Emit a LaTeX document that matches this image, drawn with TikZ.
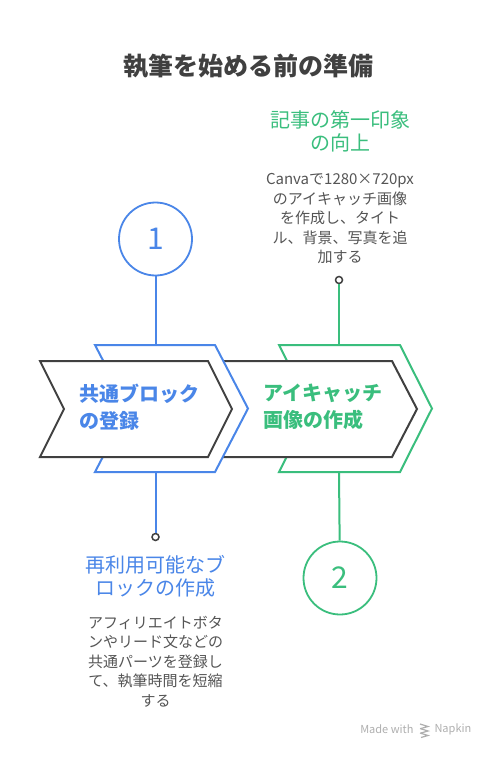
\documentclass[tikz,border=0pt]{standalone}
\usepackage{fontspec}
\setmainfont{Noto Sans CJK JP}
\definecolor{stepblue}{RGB}{74,134,232}
\definecolor{stepgreen}{RGB}{58,190,125}
\definecolor{edgegray}{RGB}{64,64,64}
\definecolor{textgray}{RGB}{85,85,85}
\definecolor{markgray}{RGB}{175,175,175}

\begin{document}
\begin{tikzpicture}[x=1pt, y=-1pt, line join=miter, chev/.style={fill=white, line width=2pt}, link/.style={line width=2pt}, numcircle/.style={circle, draw, fill=white, line width=1.8pt, minimum size=73pt, inner sep=0pt, font=\fontsize{30}{30}\selectfont}, dot/.style={circle, draw=edgegray, fill=white, line width=1.5pt, minimum size=7pt, inner sep=0pt}, head/.style={align=center, font=\fontsize{20}{23}\selectfont}, body/.style={align=center, text=textgray, font=\fontsize{15}{19.5}\selectfont}, steptext/.style={align=left, anchor=west, font=\bfseries\fontsize{20}{27}\selectfont}]
\useasboundingbox[fill=white] (0,0) rectangle (495,757);
\node[font=\bfseries\fontsize{25}{25}\selectfont, text=edgegray] (title) at (248,66) {執筆を始める前の準備};
% connectors, drawn below the arrows
\node[numcircle, draw=stepblue, text=stepblue] (c1) at (155.5,239) {1};
\node[numcircle, draw=stepgreen, text=stepgreen] (c2) at (340,578) {2};
\node[dot] (d1) at (155.5,537) {};
\node[dot] (d2) at (339,280) {};
\coordinate (b1top) at (155.5,345); \coordinate (b1bot) at (155.5,472);
\coordinate (g2top) at (339,345); \coordinate (g2bot) at (339,472);
\draw[link, stepblue] (c1) -- (b1top);\draw[link, stepblue] (b1bot) -- (d1);
\draw[link, stepgreen] (d2) -- (g2top);\draw[link, stepgreen] (g2bot) -- (c2);
% arrows, back to front
\draw[chev, draw=stepgreen] (279,345) -- (400,345) -- (432,408.5) -- (400,472) -- (279,472) -- (311,408.5) -- cycle;
\draw[chev, draw=edgegray] (216,361) -- (392,361) -- (417,409) -- (392,457) -- (216,457) -- (240,409) -- cycle;
\draw[chev, draw=stepblue] (95,345) -- (215,345) -- (248,408.5) -- (215,472) -- (95,472) -- (128,408.5) -- cycle;
\draw[chev, draw=edgegray] (40,361) -- (208,361) -- (232,409) -- (208,457) -- (40,457) -- (64,409) -- cycle;
\node[steptext, text=stepblue] (s1) at (76,407) {共通ブロック\\の登録};
\node[steptext, text=stepgreen] (s2) at (260,407) {アイキャッチ\\画像の作成};
% texts
\node[head, text=stepgreen] (h2) at (340,131.5) {記事の第一印象\\の向上};
\node[body] (t2) at (340,219) {Canvaで1280×720px\\のアイキャッチ画像\\を作成し、タイト\\ル、背景、写真を追\\加する};
\node[head, text=stepblue] (h1) at (155.5,576.5) {再利用可能なブ\\ロックの作成};
\node[body] (t1) at (155.5,661.5) {アフィリエイトボタ\\ンやリード文などの\\共通パーツを登録し\\て、執筆時間を短縮\\する};
\node[text=markgray, font=\fontsize{11}{11}\selectfont, anchor=east] (made) at (417,729) {Made with};
\node[text=markgray, font=\fontsize{11}{11}\selectfont, anchor=west] (napkin) at (431,729) {Napkin};
\foreach \y in {724,728.5,733}{\draw[markgray, line width=1.2pt] (420,\y) -- (428,\y+2.5) -- (421,\y+4.5);}
\end{tikzpicture}
\end{document}
